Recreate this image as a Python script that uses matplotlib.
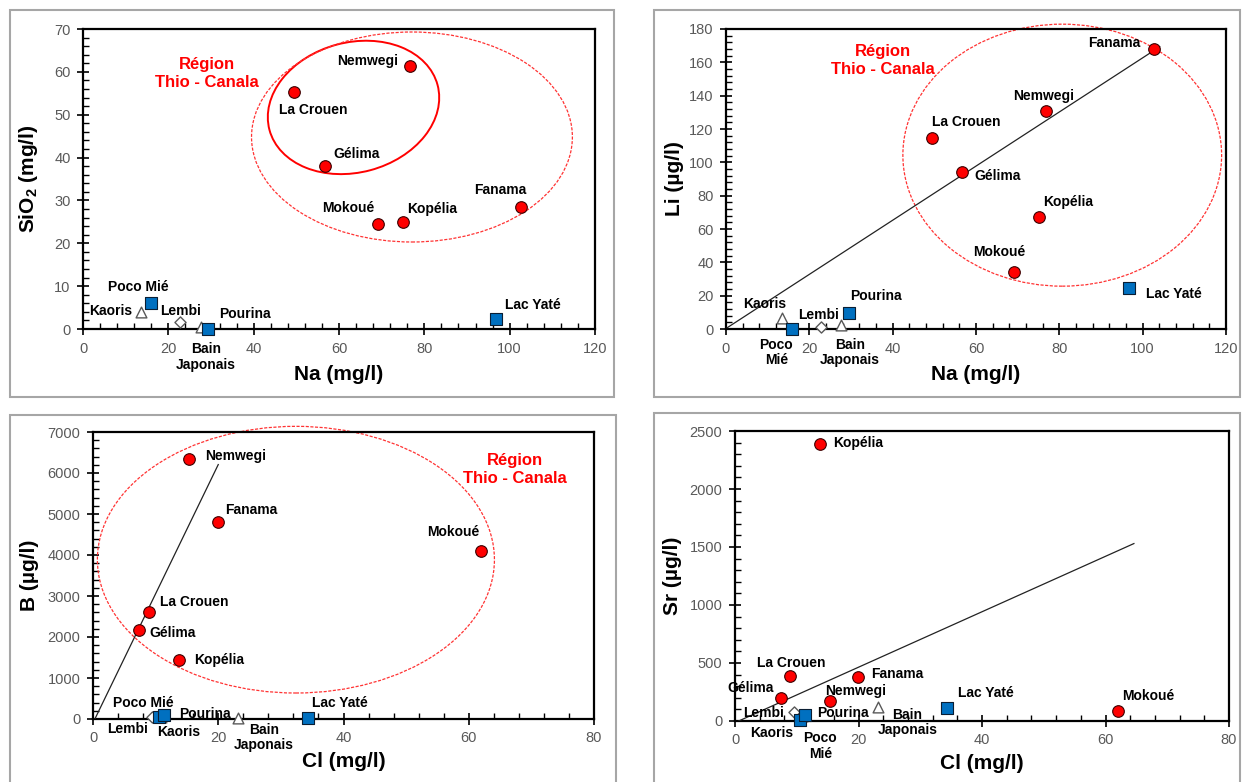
import matplotlib
matplotlib.use('Agg')
import matplotlib.pyplot as plt
from matplotlib.patches import Ellipse, Rectangle
from matplotlib.ticker import AutoMinorLocator, MultipleLocator
from matplotlib.transforms import Affine2D

plt.rcParams['font.family'] = ['Liberation Sans', 'DejaVu Sans']
plt.rcParams['mathtext.fontset'] = 'custom'
plt.rcParams['mathtext.rm'] = 'Liberation Sans:bold'
plt.rcParams['mathtext.bf'] = 'Liberation Sans:bold'

# samples and their group (marker family)
samples = ['La Crouen', 'Nemwegi', 'Gélima', 'Mokoué', 'Kopélia', 'Fanama',
           'Poco Mié', 'Pourina', 'Lac Yaté', 'Kaoris', 'Bain Japonais', 'Lembi']
groups = ['thio'] * 6 + ['square'] * 3 + ['tri'] * 2 + ['diamond']

# concentrations
na = [49.5, 76.7, 56.7, 69.1, 75.1, 102.6, 15.9, 29.4, 96.7, 13.5, 27.7, 22.8]
sio2 = [55.2, 61.4, 38.1, 24.5, 25.0, 28.5, 6.1, 0.0, 2.3, 3.9, 0.4, 1.6]
li = [114.7, 130.6, 94.3, 34.4, 67.1, 167.8, 0.0, 9.6, 24.8, 6.6, 2.2, 1.2]
cl = [8.9, 15.4, 7.4, 62.0, 13.8, 19.9, 10.6, 11.4, 34.4, 10.9, 23.2, 9.5]
b = [2602, 6341, 2163, 4089, 1439, 4797, 60, 90, 24, 40, 30, 50]
sr = [387, 172, 196, 86, 2388, 381, 9, 52, 114, 40, 122, 80]

# hand drawn trend lines: x range, slope, intercept
li_trend = ([0.3, 104.1], 1.624, 0.3)
b_trend = ([0.3, 20.0], 315.0, -94.5)
sr_trend = ([0.6, 64.6], 23.9, -14.3)

styles = {
    'thio': dict(marker='o', s=70, c='#FF0000', edgecolors='#3A0000', linewidths=0.8),
    'square': dict(marker='s', s=80, c='#0070C0', edgecolors='#0A1E33', linewidths=0.8),
    'tri': dict(marker='^', s=60, c='white', edgecolors='#595959', linewidths=1.0),
    'diamond': dict(marker='D', s=32, c='white', edgecolors='#595959', linewidths=1.0),
}

fig = plt.figure(figsize=(12.43, 7.82), dpi=100)
W, H = 1243.0, 782.0


def frame(x0, y0, x1, y1):
    r = Rectangle((x0 / W, 1 - y1 / H), (x1 - x0) / W, (y1 - y0) / H,
                  transform=fig.transFigure, fill=False, ec='#A6A6A6', lw=1.5)
    fig.patches.append(r)


def make_axes(px, xmax, xstep, ymax, ystep, xlabel, ylabel, ylab_x, xlab_y):
    left, top, right, bottom = px
    ax = fig.add_axes([left / W, 1 - bottom / H, (right - left) / W, (bottom - top) / H])
    ax.set_xlim(0, xmax)
    ax.set_ylim(0, ymax)
    ax.xaxis.set_major_locator(MultipleLocator(xstep))
    ax.yaxis.set_major_locator(MultipleLocator(ystep))
    ax.xaxis.set_minor_locator(AutoMinorLocator(5))
    ax.yaxis.set_minor_locator(AutoMinorLocator(5))
    ax.tick_params(which='major', direction='inout', length=8, width=1.2,
                   labelsize=10.5, labelcolor='#595959', pad=5)
    ax.tick_params(which='minor', direction='in', length=4, width=1.0)
    for sp in ax.spines.values():
        sp.set_linewidth(1.6)
    ax.set_xlabel(xlabel, fontsize=15, fontweight='bold')
    ax.set_ylabel(ylabel, fontsize=15, fontweight='bold')
    ax.yaxis.set_label_coords(ylab_x, 0.5)
    ax.xaxis.set_label_coords(0.5, xlab_y)
    return ax


def draw_points(ax, xs, ys):
    for g in ['tri', 'diamond', 'square', 'thio']:
        px = [x for x, gg in zip(xs, groups) if gg == g]
        py = [y for y, gg in zip(ys, groups) if gg == g]
        ax.scatter(px, py, zorder=5, clip_on=False, **styles[g])


def draw_labels(ax, labels):
    for text, x, y in labels:
        ax.text(x, y, text, ha='center', va='center', fontsize=10,
                fontweight='bold', linespacing=1.15, zorder=6)


def region(ax, x, y):
    ax.text(x, y, 'Région\nThio - Canala', color='#FF0000', ha='center', va='center',
            fontsize=12, fontweight='bold', linespacing=1.25)


def trend(ax, t):
    xr, k, c = t
    ax.plot(xr, [k * v + c for v in xr], color='#222222', lw=0.9, zorder=3)


dash = (0, (2.5, 1.2))

# ---- top left: SiO2 vs Na
frame(10, 10, 614, 397)
ax1 = make_axes((83, 29, 595, 329), 120, 20, 70, 10, 'Na (mg/l)',
                r'SiO$_\mathbf{2}$ (mg/l)', -0.084, -0.12)
# tilted solid ellipse drawn in pixel-like units
sx, sy = 512 / 120.0, 300 / 70.0
pix = Affine2D().scale(1 / sx, 1 / sy) + ax1.transData
ax1.add_patch(Ellipse((63.4 * sx, 51.7 * sy), 174, 130, angle=15, transform=pix,
                      fill=False, ec='#FF0000', lw=1.4, zorder=2))
ax1.add_patch(Ellipse((77.1, 44.8), 75.2, 49.0, fill=False, ec='#FF3333', lw=0.9,
                      ls=dash, zorder=2, clip_on=False))
draw_points(ax1, na, sio2)
draw_labels(ax1, [('La Crouen', 54.0, 51.0), ('Nemwegi', 66.7, 62.5), ('Gélima', 64.0, 40.9),
                  ('Mokoué', 62.2, 28.3), ('Kopélia', 81.8, 28.0), ('Fanama', 97.8, 32.5),
                  ('Poco Mié', 12.9, 9.7), ('Pourina', 38.0, 3.4), ('Lac Yaté', 105.5, 5.5),
                  ('Kaoris', 6.6, 4.3), ('Bain\nJaponais', 28.8, -6.6), ('Lembi', 22.8, 4.3)])
region(ax1, 29.1, 59.6)

# ---- top right: Li vs Na
frame(654, 10, 1240, 397)
ax2 = make_axes((726, 29, 1226, 329), 120, 20, 180, 20, 'Na (mg/l)', 'Li (µg/l)',
                -0.084, -0.12)
ax2.add_patch(Ellipse((80.7, 104.3), 76.5, 157.2, fill=False, ec='#FF3333', lw=0.9,
                      ls=dash, zorder=2, clip_on=False))
trend(ax2, li_trend)
draw_points(ax2, na, li)
draw_labels(ax2, [('La Crouen', 57.7, 124.1), ('Nemwegi', 76.3, 140.0), ('Gélima', 65.1, 91.5),
                  ('Mokoué', 65.6, 46.1), ('Kopélia', 82.2, 76.1), ('Fanama', 93.2, 171.4),
                  ('Poco\nMié', 12.1, -14.2), ('Pourina', 36.1, 19.6), ('Lac Yaté', 107.6, 21.0),
                  ('Kaoris', 9.2, 15.0), ('Bain\nJaponais', 29.7, -14.2), ('Lembi', 22.1, 8.6)])
region(ax2, 37.6, 161.1)

# ---- bottom left: B vs Cl
frame(10, 415, 616, 800)
ax3 = make_axes((93, 432, 594, 719), 80, 20, 7000, 1000, 'Cl (mg/l)', 'B (µg/l)',
                -0.108, -0.115)
ax3.add_patch(Ellipse((32.4, 3886), 63.4, 6504, fill=False, ec='#FF3333', lw=0.9,
                      ls=dash, zorder=2, clip_on=False))
trend(ax3, b_trend)
draw_points(ax3, cl, b)
draw_labels(ax3, [('La Crouen', 16.2, 2846), ('Nemwegi', 22.7, 6423), ('Gélima', 12.7, 2098),
                  ('Mokoué', 57.5, 4553), ('Kopélia', 20.2, 1447), ('Fanama', 25.3, 5089),
                  ('Poco Mié', 8.0, 390), ('Pourina', 17.8, 130), ('Lac Yaté', 39.5, 390),
                  ('Kaoris', 13.7, -325), ('Bain\nJaponais', 27.3, -447), ('Lembi', 5.5, -244)])
region(ax3, 67.3, 6080)

# ---- bottom right: Sr vs Cl
frame(654, 413, 1240, 800)
ax4 = make_axes((735, 431, 1229, 721), 80, 20, 2500, 500, 'Cl (mg/l)', 'Sr (µg/l)',
                -0.107, -0.114)
trend(ax4, sr_trend)
draw_points(ax4, cl, sr)
draw_labels(ax4, [('La Crouen', 9.1, 497), ('Nemwegi', 19.6, 258), ('Gélima', 2.6, 281),
                  ('Mokoué', 67.0, 215), ('Kopélia', 19.9, 2400), ('Fanama', 26.2, 402),
                  ('Poco\nMié', 13.8, -218), ('Pourina', 17.4, 66), ('Lac Yaté', 40.6, 238),
                  ('Kaoris', 6.0, -106), ('Bain\nJaponais', 27.9, -12), ('Lembi', 4.6, 72)])

fig.savefig('out.png', dpi=100, facecolor='white')
